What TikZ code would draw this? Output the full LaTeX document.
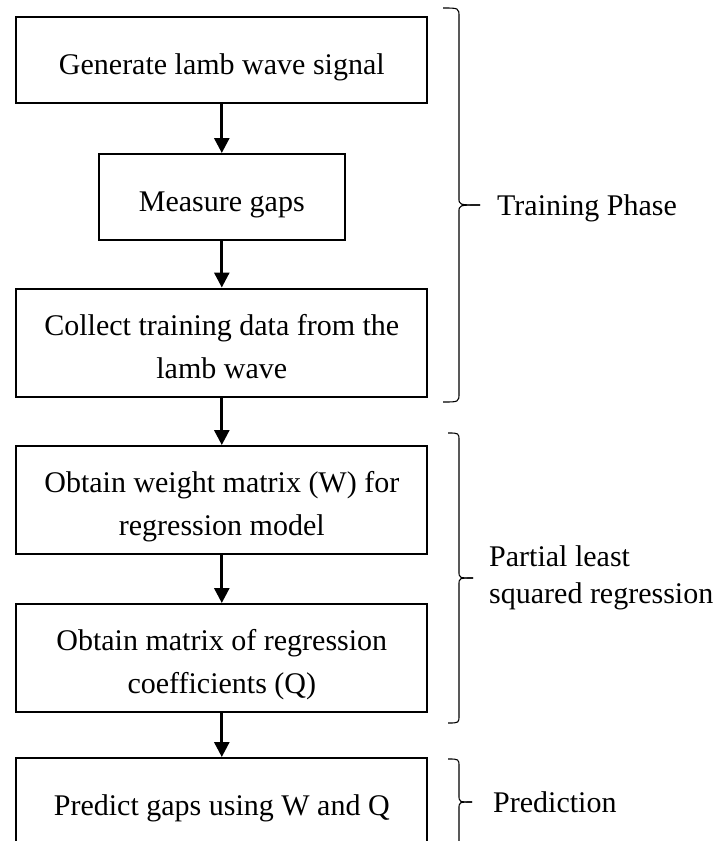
\documentclass[tikz,border=0pt]{standalone}
\usepackage{fontspec}
\setmainfont{Liberation Serif}
\usetikzlibrary{arrows.meta}
\newcommand\rs{\rule[-7.5pt]{0pt}{43pt}}
\newcommand\ls{\rule[-9pt]{0pt}{37pt}}
\begin{document}
\begin{tikzpicture}[x=1pt,y=-1pt,
  stepbox/.style={draw=black,line width=2pt,rectangle,minimum width=411pt,minimum height=86pt,inner sep=0pt,align=center,font=\fontsize{30}{43}\selectfont},
  tallbox/.style={stepbox,minimum height=108pt},
  flow/.style={line width=2.8pt,-{Triangle[width=15pt,length=15pt]}},
  bracepath/.style={line width=1.1pt,black},
  phase/.style={font=\fontsize{30}{37}\selectfont,align=left,inner sep=0pt}]
\useasboundingbox (0,0) rectangle (719,841);
\clip (0,0) rectangle (719,841);

% flow boxes
\node[stepbox] (b1) at (221.8,60.3) {\rs Generate lamb wave signal};
\node[stepbox,minimum width=246pt] (b2) at (221.8,197) {\rs Measure gaps};
\node[tallbox] (b3) at (221.8,342.5) {\rs Collect training data from the\\\rs lamb wave};
\node[tallbox] (b4) at (221.8,500) {\rs Obtain weight matrix (W) for\\\rs regression model};
\node[tallbox] (b5) at (221.8,658) {\rs Obtain matrix of regression\\\rs coefficients (Q)};
\node[stepbox] (b6) at (221.8,801) {\rs Predict gaps using W and Q};

% connectors
\draw[flow] (b1.south) -- (b2.north);
\draw[flow] (b2.south) -- (b3.north);
\draw[flow] (b3.south) -- (b4.north);
\draw[flow] (b4.south) -- (b5.north);
\draw[flow] (b5.south) -- (b6.north);

% braces
\draw[bracepath] (443,8) .. controls (459,8) .. (459,17) -- (459,198) .. controls (459,205) .. (480,205);
\draw[bracepath] (480,205) .. controls (459,205) .. (459,212) -- (459,393) .. controls (459,402) .. (443,402);

\draw[bracepath] (448,433) .. controls (459,433) .. (459,441) -- (459,571) .. controls (459,578) .. (473,578);
\draw[bracepath] (473,578) .. controls (459,578) .. (459,585) -- (459,715) .. controls (459,723) .. (448,723);

\draw[bracepath] (448,759) .. controls (459,759) .. (459,767) -- (459,795) .. controls (459,802) .. (472,802);
\draw[bracepath] (472,802) .. controls (459,802) .. (459,809) -- (459,860);

% phase labels
\node[phase,anchor=base west] (tp) at (497,215) {Training Phase};
\node[phase,anchor=west] (pls) at (489,575) {\ls Partial least\\\ls squared regression};
\node[phase,anchor=base west] (pr) at (493,812) {Prediction};
\end{tikzpicture}
\end{document}
